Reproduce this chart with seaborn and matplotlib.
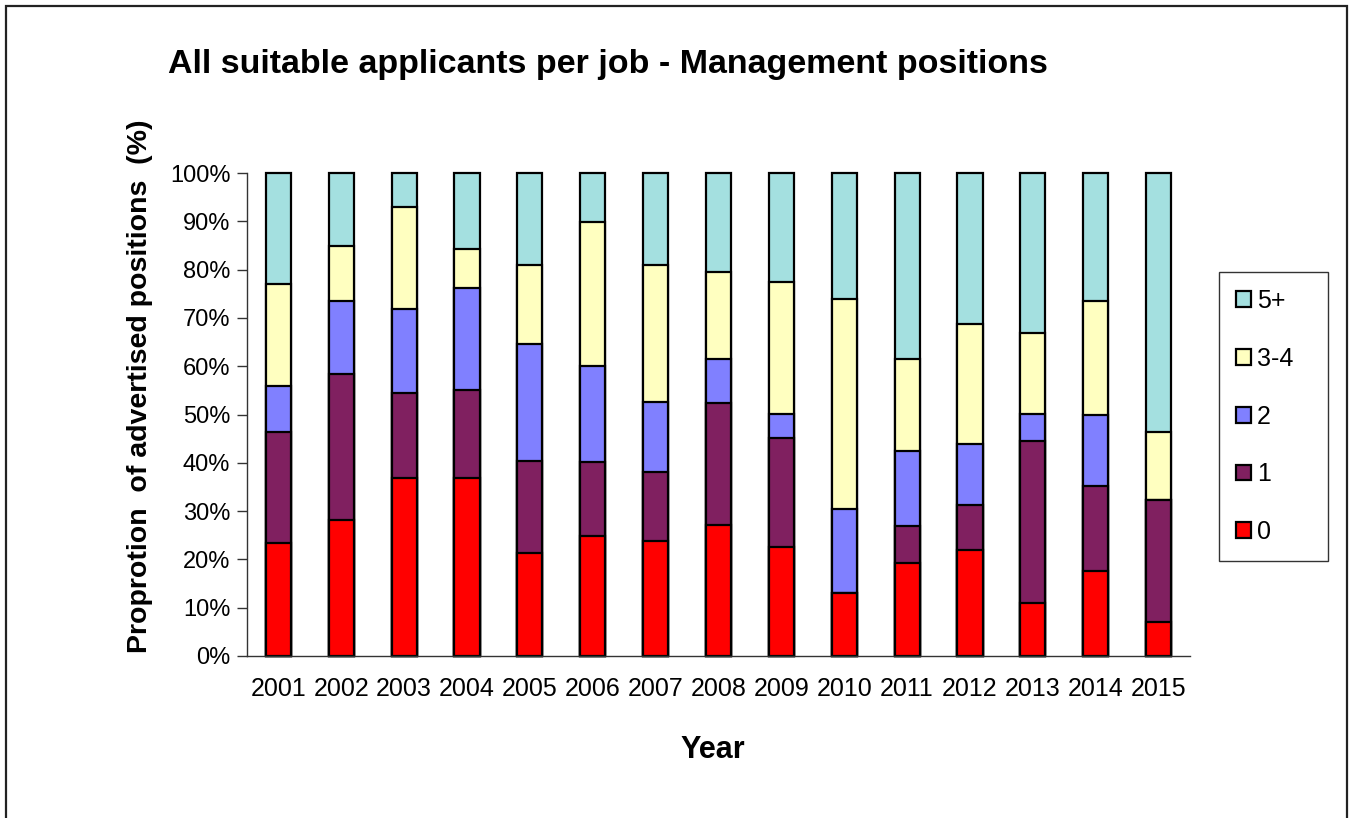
"""
관리직 채용공고당 적합 지원자 수 비율 — 연도별 100% 누적 막대
"""
import numpy as np
import pandas as pd
import matplotlib
matplotlib.use("Agg")
import matplotlib.pyplot as plt
from matplotlib.patches import Rectangle
from matplotlib.ticker import FuncFormatter
import seaborn as sns

YEARS = [str(y) for y in range(2001, 2016)]
# 구간별 비율(%) — 그림에서 읽은 값
ZERO = [23.3, 28.1, 36.8, 36.8, 21.4, 24.8, 23.8, 27.2, 22.6, 13.1, 19.3, 22.0, 11.0, 17.6, 7.0]
ONE = [23.1, 30.3, 17.6, 18.3, 19.0, 15.4, 14.3, 25.2, 22.5, 0.0, 7.6, 9.2, 33.6, 17.6, 25.3]
TWO = [9.6, 15.2, 17.5, 21.1, 24.2, 19.9, 14.4, 9.0, 5.0, 17.4, 15.5, 12.7, 5.5, 14.6, 0.0]
THREE_FOUR = [21.0, 11.2, 21.0, 8.0, 16.3, 29.7, 28.4, 18.1, 27.4, 43.5, 19.0, 24.8, 16.7, 23.8, 14.1]
FIVE_PLUS = [23.0, 15.2, 7.1, 15.8, 19.1, 10.2, 19.1, 20.5, 22.5, 26.0, 38.6, 31.3, 33.2, 26.4, 53.6]

SERIES = ["0", "1", "2", "3-4", "5+"]
COLORS = {"0": "#FF0000", "1": "#802060", "2": "#8080FF", "3-4": "#FFFFC0", "5+": "#A4E0E0"}

sns.set_style("white")
plt.rcParams["font.family"] = ["Liberation Sans", "DejaVu Sans"]
plt.rcParams["text.color"] = "black"
plt.rcParams["axes.labelcolor"] = "black"
plt.rcParams["xtick.labelcolor"] = "black"
plt.rcParams["ytick.labelcolor"] = "black"

W, H = 1354, 818
fig = plt.figure(figsize=(W / 100, H / 100), dpi=100)
ax = fig.add_axes([247 / W, 1 - 656 / H, (1190 - 247) / W, (656 - 173) / H])

df = pd.DataFrame({"year": YEARS, "0": ZERO, "1": ONE, "2": TWO,
                   "3-4": THREE_FOUR, "5+": FIVE_PLUS})
# 누적합 — 위 구간부터 그려서 아래 구간이 덮도록
cum = df[SERIES].cumsum(axis=1)
cum["year"] = df["year"]

for s in reversed(SERIES):
    sns.barplot(data=cum, x="year", y=s, order=YEARS, color=COLORS[s], saturation=1,
                width=0.4, edgecolor="black", linewidth=1.6, errorbar=None,
                label=s, ax=ax)

for p in ax.patches:
    p.set_clip_on(False)

ax.set_xlim(-0.5, len(YEARS) - 0.5)
ax.set_ylim(0, 100)
ax.set_yticks(np.arange(0, 101, 10))
ax.yaxis.set_major_formatter(FuncFormatter(lambda v, _: f"{v:.0f}%"))
ax.set_xticks(np.arange(-0.5, len(YEARS), 1), minor=True)

ax.tick_params(axis="x", which="major", length=0, pad=15, labelsize=18)
ax.tick_params(axis="x", which="minor", length=7, width=1, color="#333333", direction="out")
ax.tick_params(axis="y", length=7, width=1, color="#333333", direction="out",
               left=True, pad=5, labelsize=17)

sns.despine(ax=ax)
for side in ["left", "bottom"]:
    ax.spines[side].set_color("#333333")
    ax.spines[side].set_linewidth(1)

ax.set_xlabel("Year", fontsize=22, fontweight="bold")
ax.xaxis.set_label_coords((713 - 247) / (1190 - 247), -(750 - 656) / (656 - 173))
ax.xaxis.label.set_va("center")
ax.set_ylabel("Proprotion  of advertised positions  (%)", fontsize=20.5, fontweight="bold")
ax.yaxis.set_label_coords(-(247 - 140) / (1190 - 247), (656 - 386) / (656 - 173))
ax.yaxis.label.set_va("center")

fig.text(607.5 / W, 1 - 64 / H, "All suitable applicants per job - Management positions",
         ha="center", va="center", fontsize=24.5, fontweight="bold")

# 범례 — 틀 너비는 원본 상자(1219~1328px)에 맞춤
leg = ax.legend(loc="upper left", mode="expand",
                bbox_to_anchor=(1219 / W, 1 - 555 / H, 109 / W, 283 / H),
                bbox_transform=fig.transFigure, borderaxespad=0, frameon=True,
                fancybox=False, framealpha=1, fontsize=18, handlelength=0.6,
                handleheight=0.6, handletextpad=0.25, labelspacing=1.35, borderpad=0.68)
leg.get_frame().set_edgecolor("#333333")
leg.get_frame().set_linewidth(1)

# 바깥 테두리
fig.patches.append(Rectangle((6 / W, -0.1), (1347 - 6) / W, 1.1 - 6 / H,
                             transform=fig.transFigure, fill=False,
                             edgecolor="#222222", linewidth=1.6))

fig.savefig("out.png", dpi=100)
